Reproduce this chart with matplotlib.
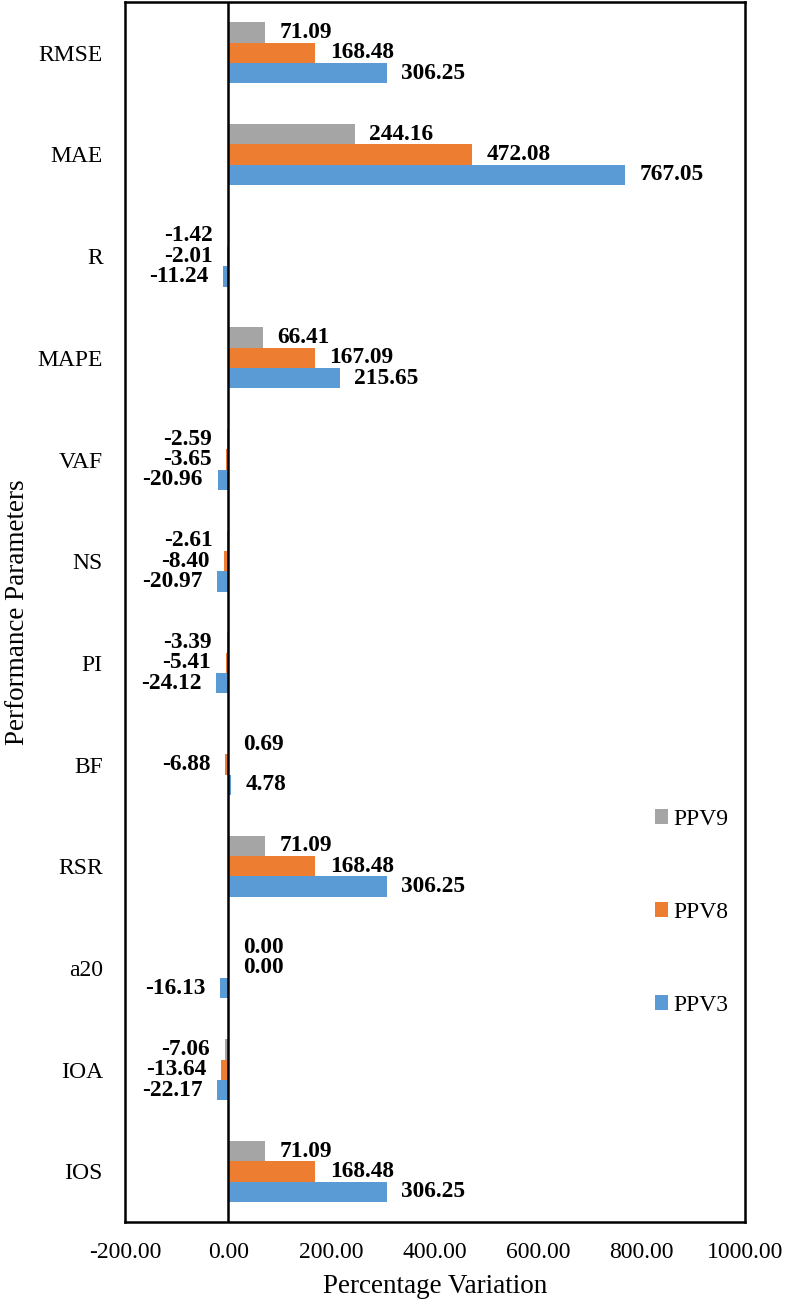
import numpy as np
import matplotlib
matplotlib.use('Agg')
import matplotlib.pyplot as plt
import matplotlib.ticker as mpticker

params = ['RMSE', 'MAE', 'R', 'MAPE', 'VAF', 'NS', 'PI', 'BF', 'RSR', 'a20', 'IOA', 'IOS']
ppv3 = [306.25, 767.05, -11.24, 215.65, -20.96, -20.97, -24.12, 4.78, 306.25, -16.13, -22.17, 306.25]
ppv8 = [168.48, 472.08, -2.01, 167.09, -3.65, -8.40, -5.41, -6.88, 168.48, 0.00, -13.64, 168.48]
ppv9 = [71.09, 244.16, -1.42, 66.41, -2.59, -2.61, -3.39, 0.69, 71.09, 0.00, -7.06, 71.09]

plt.rcParams['font.family'] = ['Liberation Serif', 'DejaVu Serif']

fig = plt.figure(figsize=(7.86, 13.03), dpi=100)
ax = fig.add_axes([0.159, 0.062, 0.789, 0.9365])

y = np.arange(len(params))
h = 0.2

# gray on top, orange in the middle, blue at the bottom of each group
b9 = ax.barh(y - h, ppv9, height=h, color='#A5A5A5', label='PPV9')
b8 = ax.barh(y, ppv8, height=h, color='#ED7D31', label='PPV8')
b3 = ax.barh(y + h, ppv3, height=h, color='#5B9BD5', label='PPV3')

for bars in (b9, b8, b3):
    ax.bar_label(bars, fmt='%.2f', padding=10.5, fontsize=16.8, fontweight='bold')

ax.axvline(0, color='black', lw=1.8, zorder=3)

ax.set_xlim(-200, 1000)
ax.set_ylim(len(params) - 0.5, -0.5)
ax.set_yticks(y)
ax.set_yticklabels(params)
ax.xaxis.set_major_locator(mpticker.MultipleLocator(200))
ax.xaxis.set_major_formatter(mpticker.FormatStrFormatter('%.2f'))
ax.tick_params(axis='both', length=0, labelsize=17)
ax.tick_params(axis='y', pad=16)
ax.tick_params(axis='x', pad=14)

for s in ax.spines.values():
    s.set_linewidth(1.8)
    s.set_color('black')

ax.set_xlabel('Percentage Variation', fontsize=19.5, labelpad=8)
ax.set_ylabel('Performance Parameters', fontsize=19.5)
ax.yaxis.set_label_coords(-0.153, 0.5)

ax.legend(handles=[b9, b8, b3], loc='center left', bbox_to_anchor=(0.82, 0.254),
          frameon=False, fontsize=17, handlelength=0.55, handleheight=0.55,
          handletextpad=0.25, labelspacing=3.05)

fig.savefig('out.png', dpi=100)
